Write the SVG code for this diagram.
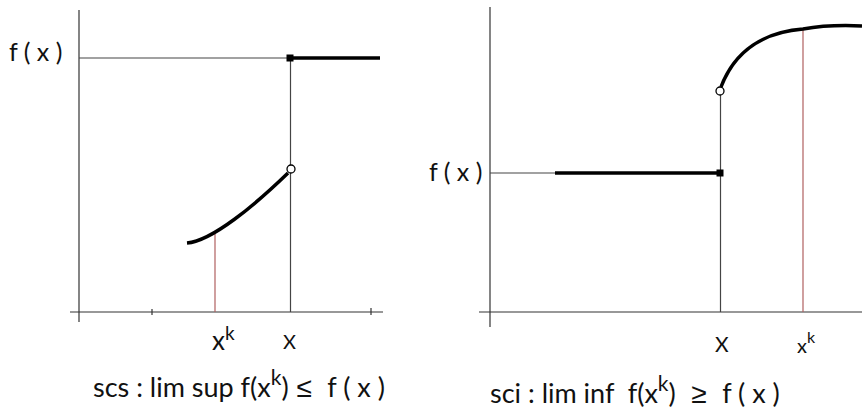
<svg xmlns="http://www.w3.org/2000/svg" width="862" height="409" viewBox="0 0 862 409">
<style>
.ax{stroke:#333;stroke-width:1.2;fill:none}
.thin{stroke:#444;stroke-width:1.2;fill:none}
.thick{stroke:#000;stroke-width:3.5;fill:none;stroke-linecap:butt}
.red{stroke:#b06060;stroke-width:1.2;fill:none}
.open{fill:#fff;stroke:#000;stroke-width:1.3}
.t{font-family:Lato,"Open Sans","Liberation Sans",sans-serif;fill:#111}
.cap{white-space:pre}
.rel{font-family:"Liberation Sans",sans-serif}
</style>
<rect width="862" height="409" fill="#fff"/>
<g id="left-panel">
  <g id="left-axes">
    <line class="ax" x1="79" y1="10" x2="79" y2="322"/>
    <line class="ax" x1="70" y1="312" x2="383" y2="312"/>
    <line class="ax" x1="152" y1="309" x2="152" y2="315"/>
    <line class="ax" x1="371" y1="308" x2="371" y2="315"/>
  </g>
  <g id="left-connectors">
    <line class="thin" x1="79" y1="58" x2="290" y2="58"/>
    <line class="thin" x1="290.5" y1="58" x2="290.5" y2="312"/>
    <line class="red" x1="215" y1="234" x2="215" y2="312"/>
    <line class="thick" x1="290" y1="58" x2="380" y2="58"/>
    <path class="thick" d="M187,243 C212,241 255,205 288,173"/>
  </g>
  <g id="left-points">
    <rect x="286.5" y="54.5" width="7" height="7" fill="#000"/>
    <circle class="open" cx="291" cy="169" r="4"/>
  </g>
  <g id="left-labels">
    <text class="t" x="9" y="61" font-size="25">f ( x )</text>
    <text class="t" x="212" y="350" font-size="26">x<tspan dy="-10" font-size="19">k</tspan></text>
    <text class="t" x="283" y="349" font-size="20">X</text>
    <text class="t cap" x="93" y="397" font-size="27">scs : lim sup f(x<tspan dy="-12" font-size="21">k</tspan><tspan dy="12">)</tspan><tspan class="rel" font-size="28"> ≤  </tspan>f ( x )</text>
  </g>
</g>
<g id="right-panel">
  <g id="right-axes">
    <line class="ax" x1="490" y1="7" x2="490" y2="327"/>
    <line class="ax" x1="479" y1="312" x2="862" y2="312"/>
  </g>
  <g id="right-connectors">
    <line class="thin" x1="490" y1="173" x2="555" y2="173"/>
    <line class="thin" x1="720.5" y1="92" x2="720.5" y2="312"/>
    <line class="red" x1="803" y1="29" x2="803" y2="312"/>
    <line class="thick" x1="555" y1="173" x2="720" y2="173"/>
    <path class="thick" d="M721,87 C735,50 765,32 803,29 C820,26 840,25 862,26"/>
  </g>
  <g id="right-points">
    <rect x="716.5" y="169.5" width="7" height="7" fill="#000"/>
    <circle class="open" cx="720" cy="91" r="4"/>
  </g>
  <g id="right-labels">
    <text class="t" x="429" y="181" font-size="25">f ( x )</text>
    <text class="t" x="715" y="352" font-size="21">X</text>
    <text class="t" x="797" y="353" font-size="20">x<tspan dy="-10" font-size="16">k</tspan></text>
    <text class="t cap" x="490" y="403" font-size="27">sci : lim inf  f(x<tspan dy="-12" font-size="21">k</tspan><tspan dy="12">)</tspan><tspan class="rel" font-size="28">  ≥  </tspan>f ( x )</text>
  </g>
</g>
</svg>
